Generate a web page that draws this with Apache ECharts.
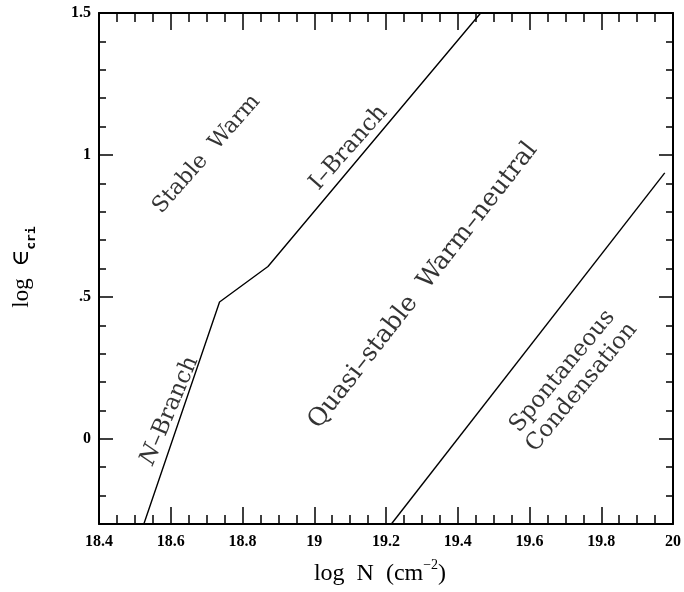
<!DOCTYPE html>
<html>
<head>
<meta charset="utf-8">
<script src="https://cdn.jsdelivr.net/npm/echarts@6/dist/echarts.min.js"></script>
<style>html,body{margin:0;padding:0;background:#fff}#c{width:684px;height:592px}</style>
</head>
<body>
<div id="c"></div>
<script>
// ---- data ----
var branchLine = [[18.525, -0.3], [18.736, 0.482], [18.871, 0.607], [19.464, 1.5]];
var condensationLine = [[19.215, -0.3], [19.977, 0.937]];
var yTickValues = [0, 0.5, 1, 1.5];
var yTickLabels = ['0', '.5', '1', '1.5'];
var yMajorTicks = [0, 0.5, 1];
var regionNames = ['Stable  Warm', 'I\u2013Branch', '{i|N}\u2013Branch', 'Quasi\u2013stable  Warm\u2013neutral', 'Spontaneous\nCondensation'];
var regionX = [18.70, 19.096, 18.597, 19.3035, 19.719];
var regionY = [1.003, 1.025, 0.099, 0.540, 0.2095];
var regionAngle = [48.6, 48.6, 67, 52, 50.4];
var regionFont = [22, 23, 23, 25, 23];

var chart = echarts.init(document.getElementById('c'), null, {renderer: 'canvas'});
var black = '#000';
function xAxisCfg(pos, showLabel) {
  return {
    type: 'value', position: pos, min: 18.4, max: 20, interval: 0.2,
    axisLine: {show: true, onZero: false, lineStyle: {color: black, width: 2}},
    axisTick: {show: true, inside: true, length: 17, lineStyle: {color: black, width: 1.5}},
    minorTick: {show: true, splitNumber: 4, length: 9, lineStyle: {color: black, width: 1.5}},
    splitLine: {show: false}, minorSplitLine: {show: false},
    axisLabel: {show: showLabel, margin: 10, color: black, fontFamily: 'Liberation Serif', fontWeight: 'bold', fontSize: 16,
      formatter: function (v) { return String(+v.toFixed(2)); }}
  };
}
function yAxisCfg(pos, major, showLabel, showLine) {
  return {
    type: 'value', position: pos, min: -0.3, max: 1.5, interval: 0.1,
    axisLine: {show: showLine, onZero: false, lineStyle: {color: black, width: 2}},
    axisTick: major ? {show: true, inside: true, length: 14, customValues: yMajorTicks, lineStyle: {color: black, width: 1.5}}
                    : {show: true, inside: true, length: 7, lineStyle: {color: black, width: 1.5}},
    splitLine: {show: false},
    axisLabel: showLabel ? {show: true, customValues: yTickValues, margin: 8, color: black, fontFamily: 'Liberation Serif', fontWeight: 'bold', fontSize: 16,
      formatter: function (v) { for (var i = 0; i < yTickValues.length; i++) { if (Math.abs(v - yTickValues[i]) < 1e-6) return yTickLabels[i]; } return ''; }}
      : {show: false}
  };
}
var labelData = regionNames.map(function (n, i) {
  return {value: [regionX[i], regionY[i]], label: {formatter: n, rotate: regionAngle[i], fontSize: regionFont[i], lineHeight: regionFont[i] + 2,
    rich: {i: {fontStyle: 'italic', fontFamily: 'DejaVu Serif', fontSize: regionFont[i], color: black}}}};
});
chart.setOption({
  animation: false,
  backgroundColor: '#fff',
  grid: {left: 99, top: 13, width: 574, height: 511, containLabel: false},
  xAxis: [xAxisCfg('bottom', true), xAxisCfg('top', false)],
  yAxis: [yAxisCfg('left', true, true, true), yAxisCfg('left', false, false, false),
          yAxisCfg('right', true, false, true), yAxisCfg('right', false, false, false)],
  series: [
    {type: 'line', name: 'branch', data: branchLine, xAxisIndex: 0, yAxisIndex: 0, symbol: 'none',
     lineStyle: {color: black, width: 1.4}, clip: true, z: 3},
    {type: 'line', name: 'condensation', data: condensationLine, xAxisIndex: 0, yAxisIndex: 0, symbol: 'none',
     lineStyle: {color: black, width: 1.4}, clip: true, z: 3},
    {type: 'scatter', name: 'regions', data: labelData, xAxisIndex: 0, yAxisIndex: 0, symbolSize: 0, silent: true,
     label: {show: true, position: 'inside', align: 'center', verticalAlign: 'middle', color: black,
       fontFamily: 'DejaVu Serif', fontSize: 23}}
  ],
  graphic: [
    {type: 'text', x: 380, y: 574, z: 10, style: {
      text: '{a|log  N  (cm}{s|\u22122}{a|)}', align: 'center', verticalAlign: 'middle',
      rich: {a: {fontFamily: 'Liberation Serif', fontSize: 24, lineHeight: 32, verticalAlign: 'middle', fill: black},
             s: {fontFamily: 'Liberation Serif', fontSize: 14, lineHeight: 14, verticalAlign: 'top', fill: black}}}},
    {type: 'text', x: 22, y: 267, rotation: Math.PI / 2, z: 10, style: {
      text: '{a|log  \u2208}{s|cri}', align: 'center', verticalAlign: 'middle',
      rich: {a: {fontFamily: 'Liberation Serif, DejaVu Serif', fontSize: 23, lineHeight: 32, verticalAlign: 'middle', fill: black},
             s: {fontFamily: 'DejaVu Sans Mono', fontWeight: 'bold', fontSize: 13, lineHeight: 13, verticalAlign: 'bottom', fill: black}}}}
  ]
});
</script>
</body>
</html>
